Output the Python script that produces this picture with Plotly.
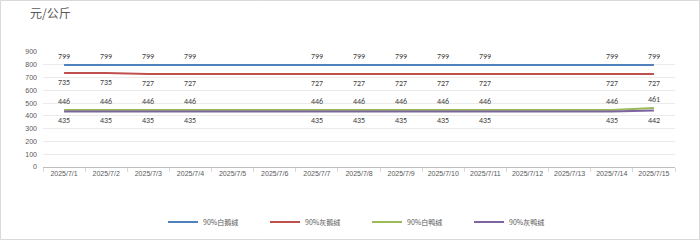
import plotly.graph_objects as go

dates = ["2025/7/1", "2025/7/2", "2025/7/3", "2025/7/4", "2025/7/5", "2025/7/6", "2025/7/7",
         "2025/7/8", "2025/7/9", "2025/7/10", "2025/7/11", "2025/7/12", "2025/7/13",
         "2025/7/14", "2025/7/15"]
white_goose = [799, 799, 799, 799, None, None, 799, 799, 799, 799, 799, None, None, 799, 799]
grey_goose = [735, 735, 727, 727, None, None, 727, 727, 727, 727, 727, None, None, 727, 727]
white_duck = [446, 446, 446, 446, None, None, 446, 446, 446, 446, 446, None, None, 446, 461]
grey_duck = [435, 435, 435, 435, None, None, 435, 435, 435, 435, 435, None, None, 435, 442]

series = [
    ("90%白鹅绒", white_goose, "#4F81BD", 1),
    ("90%灰鹅绒", grey_goose, "#C0504D", -1),
    ("90%白鸭绒", white_duck, "#9BBB59", 1),
    ("90%灰鸭绒", grey_duck, "#8064A2", -1),
]

L, R, T, B = 43, 25, 52, 73
W, H = 700, 240
pw, ph = W - L - R, H - T - B

fig = go.Figure()
annotations = []
for name, vals, color, side in series:
    fig.add_trace(go.Scatter(x=dates, y=vals, name=name, mode="lines",
                             line=dict(color=color, width=2), connectgaps=True))
    for d, v in zip(dates, vals):
        if v is None:
            continue
        annotations.append(dict(x=d, y=v, xref="x", yref="y", text=str(v), showarrow=False,
                                yshift=9 * side, font=dict(size=8, color="#404040",
                                family="Calibri, Carlito, Liberation Sans, sans-serif")))

fig.update_layout(
    width=W, height=H,
    margin=dict(l=L, r=R, t=T, b=B, autoexpand=False),
    paper_bgcolor="white", plot_bgcolor="white",
    font=dict(family="Liberation Sans, Noto Sans CJK SC, sans-serif", color="#595959"),
    title=dict(text="元/公斤", x=30 / W, y=1 - 14 / H, xanchor="left", yanchor="middle",
               xref="container", yref="container",
               font=dict(size=12, color="#595959", family="Noto Sans CJK SC")),
    showlegend=True,
    legend=dict(orientation="h", x=(163 - L) / pw, xanchor="left",
                y=(T + ph - 222) / ph, yanchor="middle",
                entrywidth=57, entrywidthmode="pixels", itemwidth=30,
                font=dict(size=7, color="#595959", family="Noto Sans CJK SC"),
                bgcolor="rgba(0,0,0,0)"),
    annotations=annotations,
    shapes=[dict(type="rect", xref="paper", yref="paper",
                 x0=(0.5 - L) / pw, x1=(W - 0.5 - L) / pw,
                 y0=(T + ph - (H - 0.5)) / ph, y1=(T + ph - 0.5) / ph,
                 line=dict(color="#D9D9D9", width=1), layer="below")],
)
fig.update_xaxes(type="category", range=[-0.5, len(dates) - 0.5], tickson="boundaries",
                 ticks="outside", ticklen=4,
                 tickcolor="#D9D9D9", showline=True, linecolor="#BFBFBF", linewidth=1,
                 showgrid=False, tickfont=dict(size=7, color="#595959"), tickangle=0,
                 automargin=False)
fig.update_yaxes(range=[0, 900], dtick=100, showgrid=True, gridcolor="#EBEBEB",
                 zeroline=False, showline=False, ticks="", ticklabelstandoff=5,
                 tickfont=dict(size=7, color="#595959"), automargin=False)

fig.write_html("out.html")
